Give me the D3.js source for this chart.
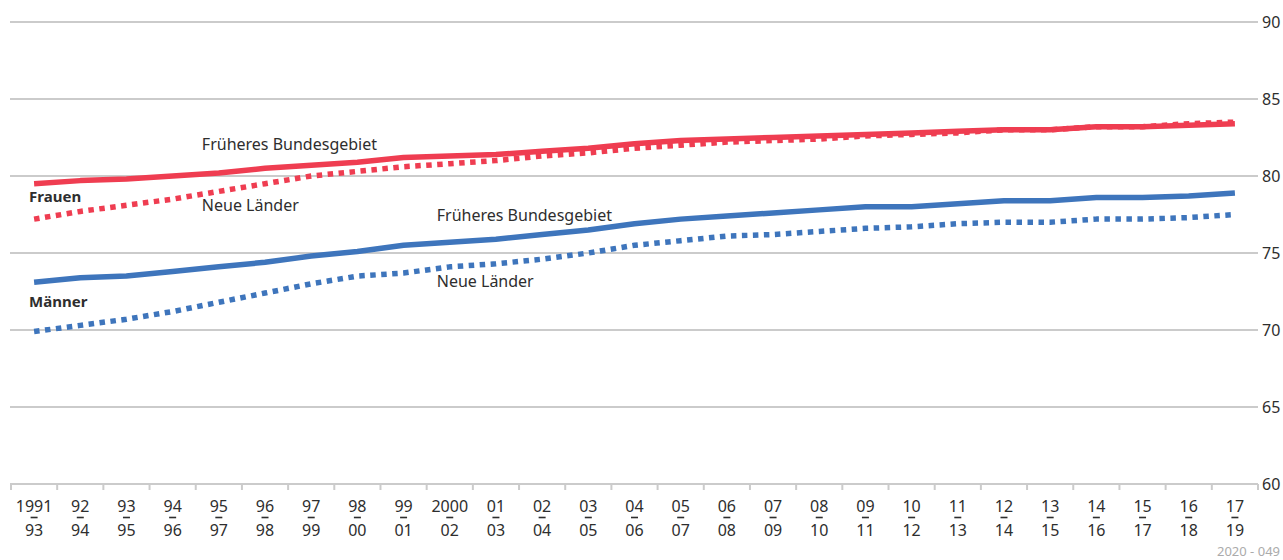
<!DOCTYPE html>
<html>
<head>
<meta charset="utf-8">
<script src="https://cdn.jsdelivr.net/npm/d3@7"></script>
<style>
  html, body { margin: 0; padding: 0; background: #fff; }
  svg { display: block; }
  text { font-family: "Noto Sans", "DejaVu Sans", sans-serif; }
</style>
</head>
<body>
<svg id="chart" width="1283" height="560"></svg>
<script>
// ---- data ----
const categories = ["1991/93","92/94","93/95","94/96","95/97","96/98","97/99","98/00","99/01","2000/02",
  "01/03","02/04","03/05","04/06","05/07","06/08","07/09","08/10","09/11","10/12",
  "11/13","12/14","13/15","14/16","15/17","16/18","17/19"];
const labelTop = ["1991","92","93","94","95","96","97","98","99","2000","01","02","03","04","05","06","07","08","09","10","11","12","13","14","15","16","17"];
const labelBottom = ["93","94","95","96","97","98","99","00","01","02","03","04","05","06","07","08","09","10","11","12","13","14","15","16","17","18","19"];
const frauenWest = [79.5,79.7,79.8,80.0,80.2,80.5,80.7,80.9,81.2,81.3,81.4,81.6,81.8,82.1,82.3,82.4,82.5,82.6,82.7,82.8,82.9,83.0,83.0,83.2,83.2,83.3,83.4];
const frauenOst  = [77.2,77.7,78.1,78.5,79.0,79.5,80.0,80.3,80.6,80.8,81.0,81.3,81.5,81.8,82.0,82.2,82.3,82.4,82.6,82.7,82.8,83.0,83.0,83.2,83.2,83.4,83.5];
const maennerWest = [73.1,73.4,73.5,73.8,74.1,74.4,74.8,75.1,75.5,75.7,75.9,76.2,76.5,76.9,77.2,77.4,77.6,77.8,78.0,78.0,78.2,78.4,78.4,78.6,78.6,78.7,78.9];
const maennerOst  = [69.9,70.3,70.7,71.2,71.8,72.4,73.0,73.5,73.7,74.1,74.3,74.6,75.0,75.5,75.8,76.1,76.2,76.4,76.6,76.7,76.9,77.0,77.0,77.2,77.2,77.3,77.5];
const yTicks = [60,65,70,75,80,85,90];
const sourceNote = "2020 - 049";

// ---- setup ----
const svg = d3.select("#chart");
const red = "#ef3d51", blue = "#3e75bc", grid = "#cbcbcb", txt = "#2e2e2e";

const x = d3.scaleBand().domain(categories).range([11, 1258]).padding(0);
const cx = c => x(c) + x.bandwidth() / 2;
const y = d3.scaleLinear().domain([60, 90]).range([484, 22]);

// gridlines
svg.append("g").selectAll("line").data(yTicks).join("line")
  .attr("x1", 10).attr("x2", 1258)
  .attr("y1", d => y(d)).attr("y2", d => y(d))
  .attr("stroke", grid).attr("stroke-width", 2);

// x ticks at band boundaries
const bounds = categories.map(c => x(c)).concat([x.range()[1]]);
svg.append("g").selectAll("line").data(bounds).join("line")
  .attr("x1", d => d).attr("x2", d => d)
  .attr("y1", y(60)).attr("y2", y(60) + 6)
  .attr("stroke", grid).attr("stroke-width", 2);

// y axis labels (right)
const yAxis = d3.axisRight(y).tickValues(yTicks).tickSize(0).tickPadding(4);
const gy = svg.append("g").attr("transform", `translate(1258,0)`).call(yAxis);
gy.select(".domain").remove();
gy.selectAll("text").attr("font-size", 16).attr("fill", txt)
  .style("font-family", '"Noto Sans", sans-serif');

// x labels (two-line with fraction bar)
const gx = svg.append("g");
categories.forEach((c, i) => {
  const px = cx(c);
  gx.append("text").attr("x", px).attr("y", 512).attr("text-anchor", "middle")
    .attr("font-size", 16).attr("fill", txt).text(labelTop[i]);
  gx.append("line").attr("x1", px - 3.5).attr("x2", px + 3.5)
    .attr("y1", 517.5).attr("y2", 517.5).attr("stroke", txt).attr("stroke-width", 1.6);
  gx.append("text").attr("x", px).attr("y", 536).attr("text-anchor", "middle")
    .attr("font-size", 16).attr("fill", txt).text(labelBottom[i]);
});

// lines
const line = d3.line().x((d, i) => cx(categories[i])).y(d => y(d));
function drawLine(data, color, dotted) {
  const p = svg.append("path").datum(data)
    .attr("fill", "none").attr("stroke", color).attr("stroke-width", 5.5)
    .attr("stroke-linejoin", "round")
    .attr("d", line);
  if (dotted) p.attr("stroke-dasharray", "5.5,5.5").attr("stroke-linecap", "butt");
}
drawLine(maennerWest, blue, false);
drawLine(maennerOst, blue, true);
drawLine(frauenWest, red, false);
drawLine(frauenOst, red, true);

// annotations
const ann = [
  {t: "Früheres Bundesgebiet", x: cx(categories[4]) - 17, y: 150, b: false},
  {t: "Neue Länder", x: cx(categories[4]) - 17, y: 211, b: false},
  {t: "Frauen", x: cx(categories[0]) - 5, y: 202, b: true},
  {t: "Früheres Bundesgebiet", x: cx(categories[9]) - 13, y: 221, b: false},
  {t: "Neue Länder", x: cx(categories[9]) - 13, y: 287, b: false},
  {t: "Männer", x: cx(categories[0]) - 5, y: 307, b: true}
];
svg.append("g").selectAll("text").data(ann).join("text")
  .attr("x", d => d.x).attr("y", d => d.y)
  .attr("font-size", d => d.b ? 15 : 16)
  .attr("font-weight", d => d.b ? "bold" : "normal")
  .attr("fill", txt).text(d => d.t);

// source note
svg.append("text").attr("x", 1280).attr("y", 556).attr("text-anchor", "end")
  .attr("font-size", 13).attr("fill", "#ababab").text(sourceNote);
</script>
</body>
</html>
